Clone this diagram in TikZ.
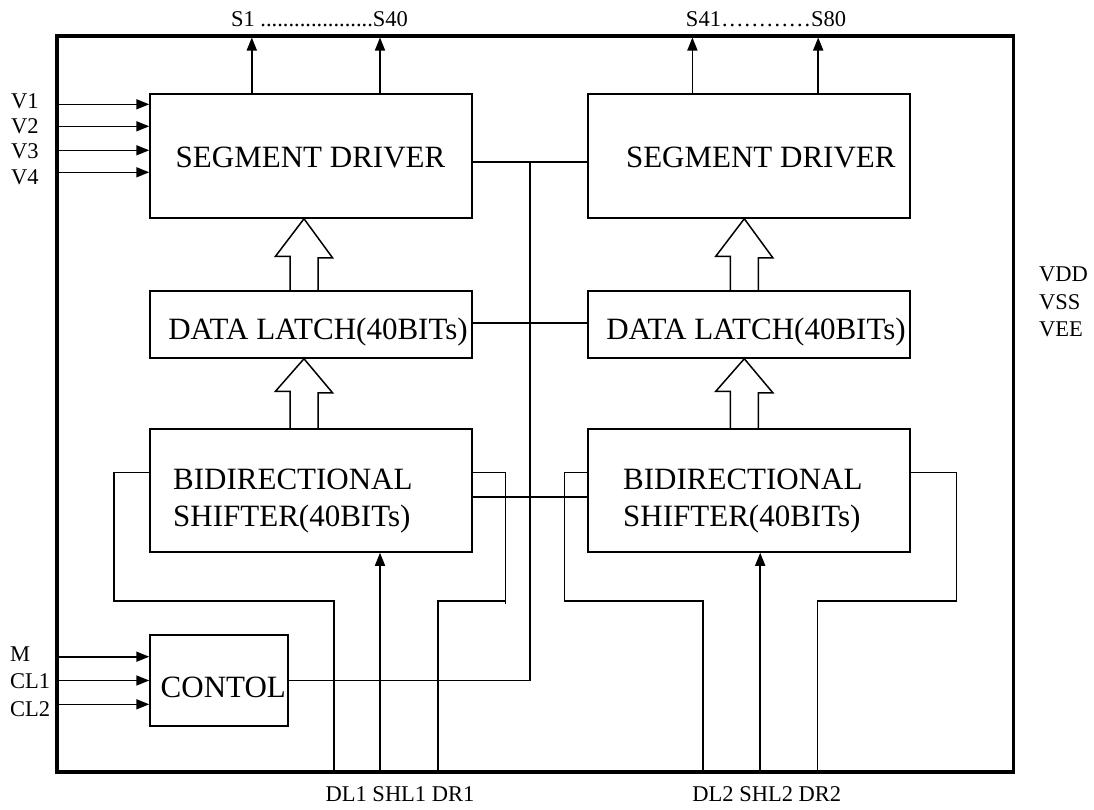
\documentclass[tikz,border=0pt]{standalone}
\usepackage{fontspec}
\setmainfont{Liberation Serif}
\usetikzlibrary{arrows.meta,calc}
\begin{document}
\begin{tikzpicture}[x=1pt,y=-1pt,
  box/.style={draw,line width=1.5pt,inner sep=0pt,minimum width=322pt},
  big/.style={inner sep=0pt,font=\fontsize{31}{37}\selectfont},
  lab/.style={inner sep=0pt,font=\fontsize{22.5}{27}\selectfont},
  wire/.style={line width=1.6pt},
  arr/.style={wire,-{Triangle[length=13pt,width=10pt]}},
  hollow/.style={draw,line width=1.5pt,line join=miter}]
\useasboundingbox (0,0) rectangle (1094,809);

% frame
\node[draw,line width=3.2pt,inner sep=0pt,minimum width=956.5pt,minimum height=736pt] (frame) at (535.25,404) {};

% boxes
\node[box,minimum height=124pt] (sd1) at (311,156) {};
\node[box,minimum height=124pt] (sd2) at (749,156) {};
\node[box,minimum height=67pt] (lat1) at (311,324.5) {};
\node[box,minimum height=67pt] (lat2) at (749,324.5) {};
\node[box,minimum height=123pt] (sh1) at (311,490.5) {};
\node[box,minimum height=123pt] (sh2) at (749,490.5) {};
\node[box,minimum width=138pt,minimum height=91pt] (ctl) at (219,680.5) {};

% box texts
\node[big,anchor=base] (tsd1) at (310.5,167) {SEGMENT DRIVER};
\node[big,anchor=base] (tsd2) at (760.8,167) {SEGMENT DRIVER};
\node[big,anchor=base] (tlat1) at (318,339) {DATA LATCH(40BITs)};
\node[big,anchor=base] (tlat2) at (756,339) {DATA LATCH(40BITs)};
\node[big,anchor=base west] (tsh1a) at (173,489) {BIDIRECTIONAL};
\node[big,anchor=base west] (tsh1b) at (173,526.5) {SHIFTER(40BITs)};
\node[big,anchor=base west] (tsh2a) at (623,489) {BIDIRECTIONAL};
\node[big,anchor=base west] (tsh2b) at (623,526.5) {SHIFTER(40BITs)};
\node[big,anchor=base] (tctl) at (223.3,697) {CONTOL};

% outer labels
\node[lab,anchor=base] (ls1) at (319.5,26) {S1 ....................S40};
\node[lab,anchor=base] (ls2) at (766,26) {S41…………S80};
\node[lab,anchor=base west] (lv1) at (11,108) {V1};
\node[lab,anchor=base west] (lv2) at (11,133) {V2};
\node[lab,anchor=base west] (lv3) at (11,158) {V3};
\node[lab,anchor=base west] (lv4) at (11,184) {V4};
\node[lab,anchor=base west] (lm) at (9.8,661) {M};
\node[lab,anchor=base west] (lc1) at (9.8,688) {CL1};
\node[lab,anchor=base west] (lc2) at (9.8,716) {CL2};
\node[lab,anchor=base west] (lvdd) at (1039,281.5) {VDD};
\node[lab,anchor=base west] (lvss) at (1039,309) {VSS};
\node[lab,anchor=base west] (lvee) at (1039,336.5) {VEE};
\node[lab,anchor=base] (lb1) at (400,801.5) {DL1 SHL1 DR1};
\node[lab,anchor=base] (lb2) at (766.8,801.5) {DL2 SHL2 DR2};

% output arrows
\coordinate (o1) at (251.8,37.5);
\coordinate (o2) at (380,37.5);
\coordinate (o3) at (692.4,37.5);
\coordinate (o4) at (818.2,37.5);
\draw[arr] (sd1.north -| o1) -- (o1);
\draw[arr] (sd1.north -| o2) -- (o2);
\draw[arr] (sd2.north -| o3) -- (o3);
\draw[arr] (sd2.north -| o4) -- (o4);

% input arrows
\coordinate (v1) at (57,104.3);
\coordinate (v2) at (57,126.3);
\coordinate (v3) at (57,150.3);
\coordinate (v4) at (57,172.3);
\coordinate (im) at (57,656.7);
\coordinate (ic1) at (57,680.5);
\coordinate (ic2) at (57,704.3);
\foreach \c in {v1,v2,v3,v4} \draw[arr] (\c) -- (sd1.west |- \c);
\foreach \c in {im,ic1,ic2} \draw[arr] (\c) -- (ctl.west |- \c);

% central bus
\coordinate (jt) at (530,162);
\coordinate (jl) at (530,322.7);
\coordinate (js) at (530,496.7);
\draw[wire] (sd1.east |- jt) -- (sd2.west |- jt);
\draw[wire] (jt) -- (ctl.east -| jt) -- (ctl.east);
\draw[wire] (lat1.east |- jl) -- (lat2.west |- jl);
\draw[wire] (sh1.east |- js) -- (sh2.west |- js);

% left shifter loops
\coordinate (dl1a) at (114,472.3);
\coordinate (dl1b) at (114,600.7);
\coordinate (dl1c) at (334,600.7);
\draw[wire] (sh1.west |- dl1a) -- (dl1a) -- (dl1b) -- (dl1c) -- (dl1c |- frame.south);
\coordinate (dr1a) at (505.6,472.3);
\coordinate (dr1b) at (505.6,603.5);
\coordinate (dr1c) at (437.7,600.7);
\draw[wire] (sh1.east |- dr1a) -- (dr1a) -- (dr1b);
\draw[wire] (dr1b |- dr1c) -- (dr1c) -- (dr1c |- frame.south);
\coordinate (shl1) at (380,772);
\draw[arr] (shl1) -- (sh1.south -| shl1);

% right shifter loops
\coordinate (dl2a) at (564.4,472.3);
\coordinate (dl2b) at (564.4,600.7);
\coordinate (dl2c) at (702.7,600.7);
\draw[wire] (sh2.west |- dl2a) -- (dl2a) -- (dl2b) -- (dl2c) -- (dl2c |- frame.south);
\coordinate (dr2a) at (956.4,472.3);
\coordinate (dr2b) at (956.4,600.7);
\coordinate (dr2c) at (817.4,600.7);
\draw[wire] (sh2.east |- dr2a) -- (dr2a) -- (dr2b) -- (dr2c) -- (dr2c |- frame.south);
\coordinate (shl2) at (760.2,772);
\draw[arr] (shl2) -- (sh2.south -| shl2);

% hollow arrows
\coordinate (ha1) at (304,0);
\coordinate (ha2) at (744.3,0);
\draw[hollow] ($(lat1.north -| ha1)+(-14,0)$) -- ++(0,-34) -- ++(-14.5,0) -- (sd1.south -| ha1) -- ++(28.5,39) -- ++(-14.5,0) -- ($(lat1.north -| ha1)+(14,0)$);
\draw[hollow] ($(sh1.north -| ha1)+(-14,0)$) -- ++(0,-37) -- ++(-14.5,0) -- (lat1.south -| ha1) -- ++(28.5,34) -- ++(-14.5,0) -- ($(sh1.north -| ha1)+(14,0)$);
\draw[hollow] ($(lat2.north -| ha2)+(-14,0)$) -- ++(0,-34) -- ++(-14.5,0) -- (sd2.south -| ha2) -- ++(28.5,39) -- ++(-14.5,0) -- ($(lat2.north -| ha2)+(14,0)$);
\draw[hollow] ($(sh2.north -| ha2)+(-14,0)$) -- ++(0,-37) -- ++(-14.5,0) -- (lat2.south -| ha2) -- ++(28.5,34) -- ++(-14.5,0) -- ($(sh2.north -| ha2)+(14,0)$);
\end{tikzpicture}
\end{document}
